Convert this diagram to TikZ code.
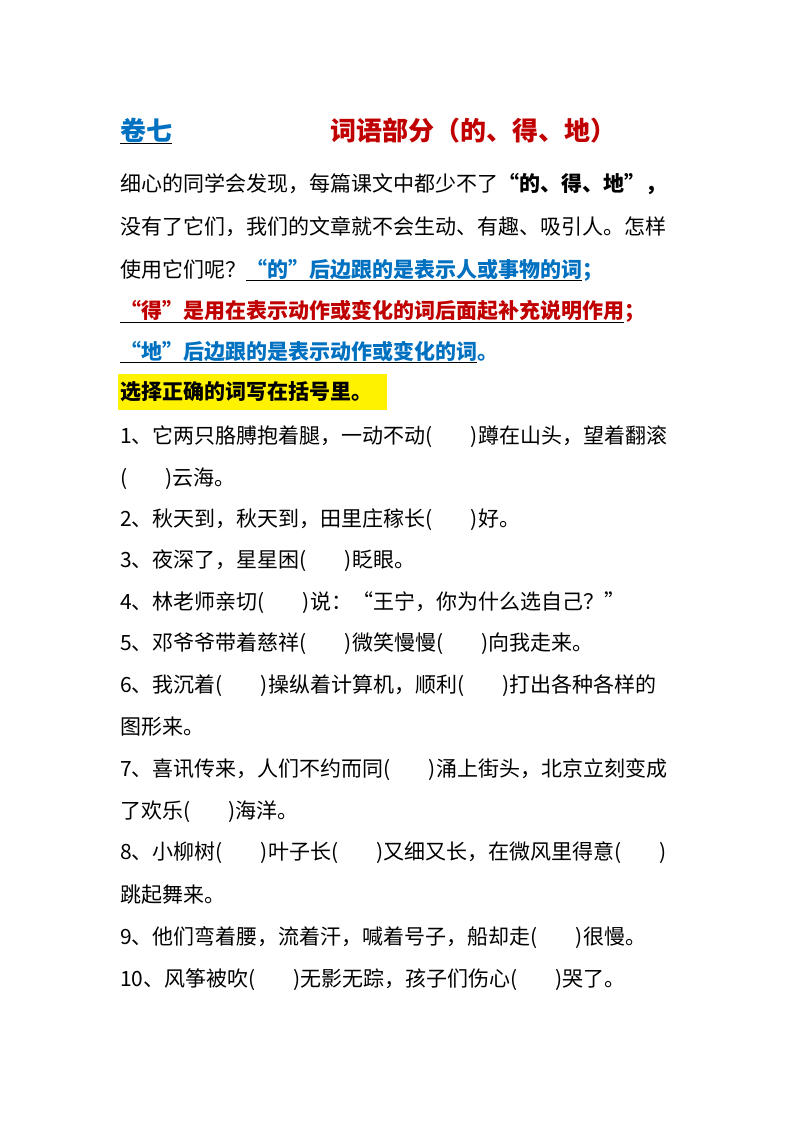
\documentclass[tikz,border=0pt]{standalone}
\usepackage{fontspec}
\setmainfont{Noto Sans CJK SC}
\usepackage{xcolor}
\definecolor{tblue}{HTML}{0070C0}
\definecolor{tred}{HTML}{C00000}
\newcommand{\kh}{(\hspace{38pt})}
\newcommand{\ul}[2]{\underline{\textcolor{#1}{\textbf{#2}}}}
\begin{document}
\begin{tikzpicture}[x=1pt,y=-1pt,
  ln/.style={anchor=base west,inner sep=0pt,font=\fontsize{21}{25}\selectfont}]
\useasboundingbox (0,0) rectangle (800,1132);
\fill[yellow] (118,374) rectangle (387,410);
\node[ln,font=\fontsize{26}{30}\selectfont\bfseries] (t1) at (120,140) {\underline{\textcolor{tblue}{卷七}}};
\node[ln,font=\fontsize{26}{30}\selectfont\bfseries,text=tred] (t2) at (330,140) {词语部分（的、得、地）};
\node[ln] (l1) at (120,191) {细心的同学会发现，每篇课文中都少不了\textbf{“的、得、地”，}};
\node[ln] (l2) at (120,234) {没有了它们，我们的文章就不会生动、有趣、吸引人。怎样};
\node[ln] (l3) at (120,277) {使用它们呢？\ul{tblue}{“的”后边跟的是表示人或事物的词}\textcolor{tblue}{\textbf{；}}};
\node[ln] (l4) at (120,318) {\ul{tred}{“得”是用在表示动作或变化的词后面起补充说明作用}\textcolor{tred}{\textbf{；}}};
\node[ln] (l5) at (120,359) {\ul{tblue}{“地”后边跟的是表示动作或变化的词}\textcolor{tblue}{\textbf{。}}};
\node[ln] (l6) at (120,399) {\textbf{选择正确的词写在括号里。}};
\node[ln] (q1) at (120,443) {1、它两只胳膊抱着腿，一动不动\kh 蹲在山头，望着翻滚};
\node[ln] (q1b) at (120,485) {\kh 云海。};
\node[ln] (q2) at (120,526) {2、秋天到，秋天到，田里庄稼长\kh 好。};
\node[ln] (q3) at (120,567) {3、夜深了，星星困\kh 眨眼。};
\node[ln] (q4) at (120,609) {4、林老师亲切\kh 说：“王宁，你为什么选自己？”};
\node[ln] (q5) at (120,650) {5、邓爷爷带着慈祥\kh 微笑慢慢\kh 向我走来。};
\node[ln] (q6) at (120,692) {6、我沉着\kh 操纵着计算机，顺利\kh 打出各种各样的};
\node[ln] (q6b) at (120,734) {图形来。};
\node[ln] (q7) at (120,776) {7、喜讯传来，人们不约而同\kh 涌上街头，北京立刻变成};
\node[ln] (q7b) at (120,818) {了欢乐\kh 海洋。};
\node[ln] (q8) at (120,859) {8、小柳树\kh 叶子长\kh 又细又长，在微风里得意\kh};
\node[ln] (q8b) at (120,902) {跳起舞来。};
\node[ln] (q9) at (120,944) {9、他们弯着腰，流着汗，喊着号子，船却走\kh 很慢。};
\node[ln] (q10) at (120,986) {10、风筝被吹\kh 无影无踪，孩子们伤心\kh 哭了。};
\end{tikzpicture}
\end{document}
